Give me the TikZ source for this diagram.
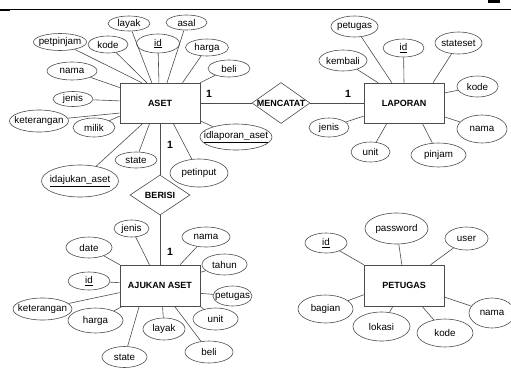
\documentclass[tikz,border=0pt]{standalone}
\usepackage{fontspec}
\setmainfont{Liberation Sans}
\usetikzlibrary{shapes.geometric}
\newcommand{\attrfont}{\fontsize{9.8}{11}\selectfont}
\newcommand{\entfont}{\fontsize{9}{10}\selectfont\bfseries}
\begin{document}
\begin{tikzpicture}[x=1pt, y=-1pt, black!70, text=black, line width=0.6pt,
        entity/.style = {draw, minimum width=80pt, minimum height=40pt, inner sep=0pt, font=\entfont},
        rel/.style = {diamond, draw, inner sep=0pt, font=\entfont,
            execute at begin node={\hbox to 0pt\bgroup\hss}, execute at end node={\hss\egroup}},
        attr/.style = {ellipse, draw, inner sep=0pt, font=\attrfont,
            execute at begin node={\hbox to 0pt\bgroup\hss}, execute at end node={\hss\egroup}},
        sz/.style 2 args = {minimum width=#1pt, minimum height=#2pt},
        one/.style = {inner sep=0pt, font=\fontsize{10.5}{12}\selectfont\bfseries}
    ]
    \useasboundingbox (0,0) rectangle (511,367);
    \draw[black, line width=0.7pt] (0,9.5) -- (511,9.5);
    \draw[black, line width=1.6pt] (0,10) -- (10,10);
    \fill[black] (488,0) rectangle (500,2.5);

    % entities and relations
    \node[entity] (aset) at (160,103) {ASET};
    \node[entity] (laporan) at (404,103) {LAPORAN};
    \node[entity, minimum height=41pt] (ajukan) at (160,285.5) {AJUKAN ASET};
    \node[entity, minimum height=41pt] (petugas) at (404,285.5) {PETUGAS};
    \node[rel, sz={58}{41}] (mencatat) at (281,103) {MENCATAT};
    \node[rel, sz={60}{40}] (berisi) at (160,195) {BERISI};
    \draw (aset) -- (mencatat) -- (laporan);
    \draw (aset) -- (berisi) -- (ajukan);
    \node[one] (one1) at (209,94) {1};
    \node[one] (one2) at (348,94) {1};
    \node[one] (one3) at (170,145) {1};
    \node[one] (one4) at (170,252) {1};

    % ASET
    \node[attr, sz={42}{15}] (asetlayak) at (129,23.5) {layak};
    \node[attr, sz={41}{15}] (asetasal) at (186.5,22.5) {asal};
    \node[attr, sz={53}{17}] (asetpetpinjam) at (60,42) {petpinjam};
    \node[attr, sz={40}{17}] (asetkode) at (108,44.5) {kode};
    \node[attr, sz={43}{19}] (asetid) at (158,43.5) {\underline{id}};
    \node[attr, sz={43}{17}] (asetharga) at (207,47.5) {harga};
    \node[attr, sz={42}{17}] (asetbeli) at (229,68.5) {beli};
    \node[attr, sz={50}{18}] (asetnama) at (72,71) {nama};
    \node[attr, sz={40}{15}] (asetjenis) at (73,99) {jenis};
    \node[attr, sz={59}{22}] (asetketerangan) at (39,121) {keterangan};
    \node[attr, sz={42}{19}] (asetmilik) at (94,127.5) {milik};
    \node[attr, sz={42}{16}] (asetstate) at (136,160) {state};
    \node[attr, sz={77}{32}] (asetidajukan) at (80,181) {\underline{idajukan\_aset}};
    \node[attr, sz={58}{28}] (asetpetinput) at (199,173) {petinput};
    \node[attr, sz={72}{26}] (asetidlaporan) at (236,137) {\underline{idlaporan\_aset}};
    \draw (asetpetpinjam) -- (aset.132);
    \draw (asetkode) -- (aset.123);
    \draw (asetlayak) -- (aset.112);
    \draw (asetid) -- (aset.93);
    \draw (asetasal) -- (aset.71);
    \draw (asetharga) -- (aset.42);
    \draw (asetbeli) -- (aset.north east);
    \draw (asetnama) -- (aset.159);
    \draw (asetjenis) -- (aset.177);
    \draw (asetketerangan) -- (aset.194);
    \draw (asetmilik) -- (aset.198);
    \draw (asetidajukan) -- (aset.230);
    \draw (asetstate) -- (aset.243);
    \draw (asetpetinput) -- (aset.303);
    \draw (asetidlaporan) -- (aset.336);

    % LAPORAN
    \node[attr, sz={47}{21}] (lappetugas) at (354.5,26.5) {petugas};
    \node[attr, sz={41}{18}] (lapid) at (403.5,48) {\underline{id}};
    \node[attr, sz={47}{22}] (lapstateset) at (458.5,43) {stateset};
    \node[attr, sz={48}{21}] (lapkembali) at (343,60.5) {kembali};
    \node[attr, sz={41}{21}] (lapkode) at (477.5,86.5) {kode};
    \node[attr, sz={50}{28}] (lapnama) at (482,129) {nama};
    \node[attr, sz={40}{19}] (lapjenis) at (329,127.5) {jenis};
    \node[attr, sz={39}{20}] (lapunit) at (370.5,152) {unit};
    \node[attr, sz={55}{24}] (lappinjam) at (438.5,155) {pinjam};
    \draw (lapkembali) -- (laporan.142);
    \draw (lappetugas) -- (laporan.121);
    \draw (lapid) -- (laporan.90);
    \draw (lapstateset) -- (laporan.35.5);
    \draw (lapkode) -- (laporan.14);
    \draw (lapnama) -- (laporan.341);
    \draw (lapjenis) -- (laporan.198);
    \draw (lapunit) -- (laporan.230);
    \draw (lappinjam) -- (laporan.312);

    % AJUKAN ASET
    \node[attr, sz={35}{17}] (ajjenis) at (131.5,228.5) {jenis};
    \node[attr, sz={46}{21}] (ajdate) at (89,247.5) {date};
    \node[attr, sz={48}{20}] (ajnama) at (206,237) {nama};
    \node[attr, sz={45}{21}] (ajtahun) at (224.5,264.5) {tahun};
    \node[attr, sz={42}{18}] (ajid) at (89,281) {\underline{id}};
    \node[attr, sz={39}{20}] (ajpetugas) at (232.5,296) {petugas};
    \node[attr, sz={59}{22}] (ajketerangan) at (42.5,309) {keterangan};
    \node[attr, sz={55}{25}] (ajharga) at (95.5,320.5) {harga};
    \node[attr, sz={45}{22}] (ajunit) at (215.5,319) {unit};
    \node[attr, sz={42}{22}] (ajlayak) at (164,329) {layak};
    \node[attr, sz={48}{22}] (ajbeli) at (209,352) {beli};
    \node[attr, sz={45}{21}] (ajstate) at (124.5,357) {state};
    \draw (ajjenis) -- (ajukan.117);
    \draw (ajdate) -- (ajukan.north west);
    \draw (ajnama) -- (ajukan.46);
    \draw (ajtahun) -- (ajukan.18);
    \draw (ajid) -- (ajukan.176);
    \draw (ajpetugas) -- (ajukan.349.5);
    \draw (ajketerangan) -- (ajukan.190.5);
    \draw (ajharga) -- (ajukan.209);
    \draw (ajunit) -- (ajukan.south east);
    \draw (ajlayak) -- (ajukan.277);
    \draw (ajbeli) -- (ajukan.305);
    \draw (ajstate) -- (ajukan.225);

    % PETUGAS
    \node[attr, sz={42}{20}] (ptid) at (326,243) {\underline{id}};
    \node[attr, sz={63}{31}] (ptpassword) at (396.5,228.5) {password};
    \node[attr, sz={43}{23}] (ptuser) at (466.5,238.5) {user};
    \node[attr, sz={55}{28}] (ptbagian) at (325.5,309) {bagian};
    \node[attr, sz={57}{29}] (ptlokasi) at (381.5,326.5) {lokasi};
    \node[attr, sz={56}{28}] (ptkode) at (445,333) {kode};
    \node[attr, sz={46}{30}] (ptnama) at (492,313) {nama};
    \draw (ptid) -- (petugas.north west);
    \draw (ptpassword) -- (petugas.96);
    \draw (ptuser) -- (petugas.38);
    \draw (ptbagian) -- (petugas.193);
    \draw (ptlokasi) -- (petugas.242);
    \draw (ptkode) -- (petugas.311);
    \draw (ptnama) -- (petugas.344);
\end{tikzpicture}
\end{document}
